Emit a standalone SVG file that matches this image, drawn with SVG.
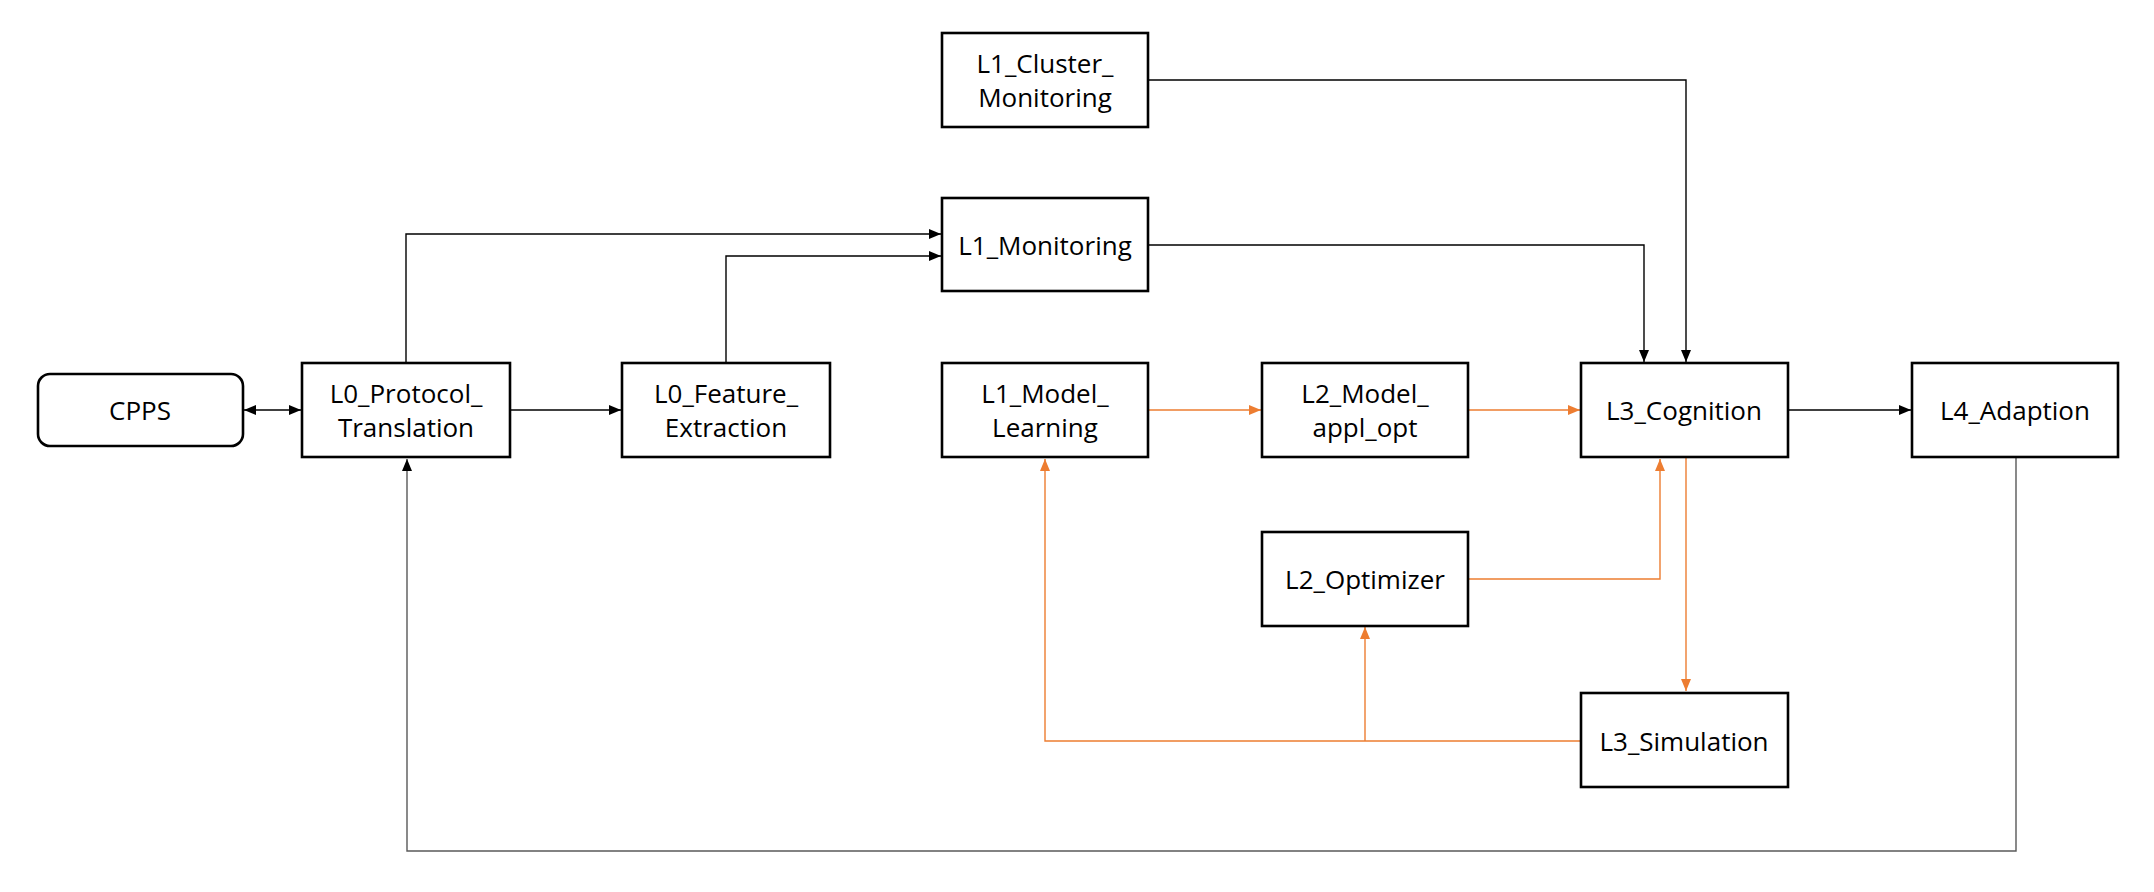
<svg xmlns="http://www.w3.org/2000/svg" width="2154" height="892" viewBox="0 0 2154 892">
<style>
.box{fill:#fff;stroke:#000;stroke-width:2.6}
.t{font-family:"Open Sans","Liberation Sans",sans-serif;font-size:26px;fill:#000;text-anchor:middle;dominant-baseline:central}
.k{fill:none;stroke:#000;stroke-width:1.4}
.g{fill:none;stroke:#595959;stroke-width:1.4}
.o{fill:none;stroke:#ED7D31;stroke-width:1.4}
</style>
<defs>
<marker id="ak" viewBox="0 0 12 10" refX="12" refY="5" markerWidth="12" markerHeight="10" markerUnits="userSpaceOnUse" orient="auto-start-reverse"><path d="M0,0L12,5L0,10z" fill="#000"/></marker>
<marker id="ao" viewBox="0 0 12 10" refX="12" refY="5" markerWidth="12" markerHeight="10" markerUnits="userSpaceOnUse" orient="auto-start-reverse"><path d="M0,0L12,5L0,10z" fill="#ED7D31"/></marker>
</defs>
<rect width="2154" height="892" fill="#fff"/>
<g id="connectors">
<path class="k" d="M244,410H301" marker-start="url(#ak)" marker-end="url(#ak)"/>
<path class="k" d="M511,410H621" marker-end="url(#ak)"/>
<path class="k" d="M406,362V234H941" marker-end="url(#ak)"/>
<path class="k" d="M726,362V256H941" marker-end="url(#ak)"/>
<path class="k" d="M1149,80H1686V362" marker-end="url(#ak)"/>
<path class="k" d="M1149,245H1644V362" marker-end="url(#ak)"/>
<path class="o" d="M1149,410H1261" marker-end="url(#ao)"/>
<path class="o" d="M1469,410H1580" marker-end="url(#ao)"/>
<path class="k" d="M1789,410H1911" marker-end="url(#ak)"/>
<path class="o" d="M1686,458V691" marker-end="url(#ao)"/>
<path class="o" d="M1469,579H1660V459" marker-end="url(#ao)"/>
<path class="o" d="M1580,741H1045V459" marker-end="url(#ao)"/>
<path class="o" d="M1365,741V627" marker-end="url(#ao)"/>
<path class="g" d="M2016,458V851H407V459" marker-end="url(#ak)"/>
</g>
<g id="CPPS"><rect class="box" x="38" y="374" width="205" height="72" rx="12"/><text class="t" x="140" y="410">CPPS</text></g>
<g id="L0_Protocol_Translation"><rect class="box" x="302" y="363" width="208" height="94"/><text class="t" x="406" y="393">L0_Protocol_</text><text class="t" x="406" y="427">Translation</text></g>
<g id="L0_Feature_Extraction"><rect class="box" x="622" y="363" width="208" height="94"/><text class="t" x="726" y="393">L0_Feature_</text><text class="t" x="726" y="427">Extraction</text></g>
<g id="L1_Cluster_Monitoring"><rect class="box" x="942" y="33" width="206" height="94"/><text class="t" x="1045" y="63">L1_Cluster_</text><text class="t" x="1045" y="97">Monitoring</text></g>
<g id="L1_Monitoring"><rect class="box" x="942" y="198" width="206" height="93"/><text class="t" x="1045" y="245">L1_Monitoring</text></g>
<g id="L1_Model_Learning"><rect class="box" x="942" y="363" width="206" height="94"/><text class="t" x="1045" y="393">L1_Model_</text><text class="t" x="1045" y="427">Learning</text></g>
<g id="L2_Model_appl_opt"><rect class="box" x="1262" y="363" width="206" height="94"/><text class="t" x="1365" y="393">L2_Model_</text><text class="t" x="1365" y="427">appl_opt</text></g>
<g id="L3_Cognition"><rect class="box" x="1581" y="363" width="207" height="94"/><text class="t" x="1684" y="410">L3_Cognition</text></g>
<g id="L4_Adaption"><rect class="box" x="1912" y="363" width="206" height="94"/><text class="t" x="2015" y="410">L4_Adaption</text></g>
<g id="L2_Optimizer"><rect class="box" x="1262" y="532" width="206" height="94"/><text class="t" x="1365" y="579">L2_Optimizer</text></g>
<g id="L3_Simulation"><rect class="box" x="1581" y="693" width="207" height="94"/><text class="t" x="1684" y="741">L3_Simulation</text></g>
</svg>
